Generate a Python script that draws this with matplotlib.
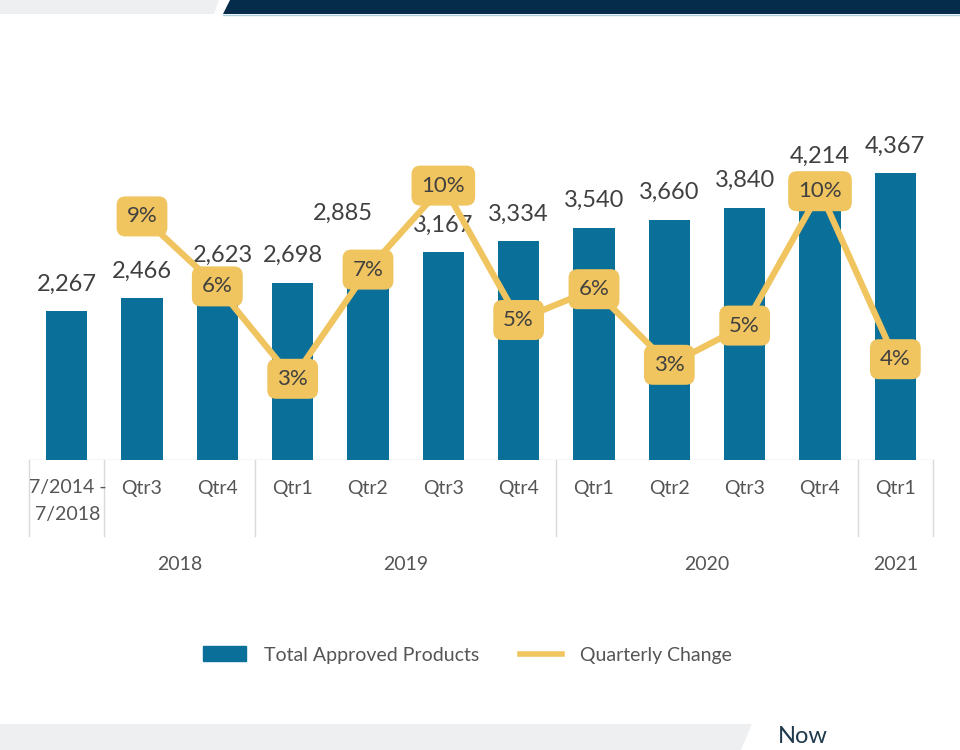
import matplotlib.pyplot as plt
from matplotlib.patches import Polygon, Patch
from matplotlib.lines import Line2D

# data
quarters = ['7/2014 -\n7/2018', 'Qtr3', 'Qtr4', 'Qtr1', 'Qtr2', 'Qtr3', 'Qtr4',
            'Qtr1', 'Qtr2', 'Qtr3', 'Qtr4', 'Qtr1']
years = ['2018', '2019', '2020', '2021']
year_bounds = [-0.5, 2.5, 6.5, 10.5, 11.5]
totals = [2267, 2466, 2623, 2698, 2885, 3167, 3334, 3540, 3660, 3840, 4214, 4367]
change = [8.7, 6.2, 2.9, 6.8, 9.8, 5.0, 6.1, 3.4, 4.8, 9.6, 3.6]  # % vs previous qtr

blue = '#0A709A'
gold = '#F0C45E'
txt = '#404040'
plt.rcParams['font.family'] = ['Lato', 'DejaVu Sans']

# labels that were dragged off the line boxes (offset in points)
nudge = {2: (4, 4), 4: (-18, 22)}

fig = plt.figure(figsize=(9.6, 7.5), dpi=100)
ax = fig.add_axes([29/960, 290/750, 904/960, 420/750])
x = list(range(len(totals)))
ax.bar(x, totals, width=0.55, color=blue, zorder=2)
ax.set_xlim(-0.5, 11.5)
ax.set_ylim(0, 6400)
for xi, v in zip(x, totals):
    dx, dy = nudge.get(xi, (0, 0))
    ax.annotate(f'{v:,}', (xi, v), xytext=(dx, 12 + dy), textcoords='offset points',
                ha='center', va='bottom', fontsize=17, color=txt, zorder=3)

ax2 = ax.twinx()
ax2.set_ylim(0, 15)
ax2.plot(x[1:], change, color=gold, lw=4.5, solid_joinstyle='round', zorder=4)
for xi, p in zip(x[1:], change):
    ax2.text(xi, p, f'{round(p)}%', ha='center', va='center', fontsize=16, color=txt,
             zorder=5, bbox=dict(boxstyle='round,pad=0.45,rounding_size=0.4', fc=gold, ec='none'))

for a in (ax, ax2):
    for s in a.spines.values():
        s.set_visible(False)
    a.set_xticks([])
    a.set_yticks([])

# category axis
ax.axhline(0, color='#DADADA', lw=1, zorder=1)
tr = ax.get_xaxis_transform()
for b in year_bounds[:1] + [0.5] + year_bounds[1:]:
    ax.plot([b, b], [0, -0.18], color='#DADADA', lw=1, transform=tr, clip_on=False)
for xi, q in zip(x, quarters):
    if '\n' in q:
        ax.text(xi + 0.02, -0.045, q, transform=tr, ha='center', va='top',
                fontsize=14, color='#555555', linespacing=1.7)
    else:
        ax.text(xi, -0.069, q, transform=tr, ha='center', va='center',
                fontsize=14, color='#555555')
for i, yr in enumerate(years):
    lo, hi = year_bounds[i], year_bounds[i + 1]
    if i == 0:
        lo = 0.5
    ax.text((lo + hi) / 2, -0.25, yr, transform=tr, ha='center', va='center',
            fontsize=14, color='#555555')

# legend
handles = [Patch(color=blue), Line2D([], [], color=gold, lw=4)]
fig.legend(handles, ['Total Approved Products', 'Quarterly Change'], loc='center',
           bbox_to_anchor=(0.487, 95/750), ncol=2, frameon=False, fontsize=14,
           labelcolor='#555555', handlelength=2.2, handleheight=0.8,
           handletextpad=0.9, columnspacing=2.1)

# header / footer decoration
fig.add_artist(Polygon([(0, 1), (219/960, 1), (214/960, 736/750), (0, 736/750)],
                       closed=True, transform=fig.transFigure, fc='#EEEFF1', ec='none'))
fig.add_artist(Polygon([(230/960, 1), (1, 1), (1, 736/750), (223/960, 736/750)],
                       closed=True, transform=fig.transFigure, fc='#052C4B', ec='none'))
fig.add_artist(Line2D([223/960, 1], [735.5/750, 735.5/750], transform=fig.transFigure,
                      color='#A9CFE3', lw=1))
fig.add_artist(Polygon([(0, 26/750), (752/960, 26/750), (741/960, 0), (0, 0)],
                       closed=True, transform=fig.transFigure, fc='#EEEFF1', ec='none'))
fig.text(778/960, 3/750, 'Now', fontsize=17, color='#1E3A4C', va='bottom', ha='left')

fig.savefig('out.png', dpi=100)
